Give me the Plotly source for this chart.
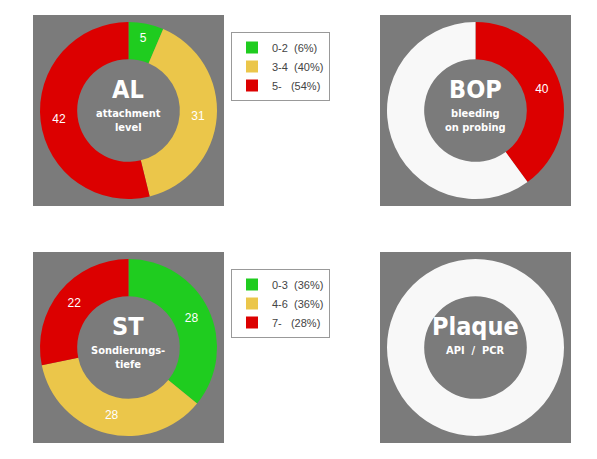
import plotly.graph_objects as go

W, H = 597, 459
OFF = 8  # page body margin

al_labels = ['0-2  (6%)', '3-4  (40%)', '5-   (54%)']
al_values = [5, 31, 42]
bop_labels = ['BOP+', 'BOP-']
bop_values = [40, 60]
st_labels = ['0-3  (36%)', '4-6  (36%)', '7-   (28%)']
st_values = [28, 28, 22]
plaque_labels = ['Plaque']
plaque_values = [100]

GREEN, YELLOW, RED, WHITE = '#1fcc1f', '#ebc64a', '#dc0000', '#f8f8f8'
GRAY = '#7b7b7b'

def px_x(v):
    return (v - OFF) / W

def px_y(v):
    return 1 - (v - OFF) / H

# panels: (left, top) in pixels, size 191
panels = [(33, 15), (380, 15), (33, 252), (380, 252)]

fig = go.Figure()

for x0, y0 in panels:
    fig.add_shape(type='rect', xref='paper', yref='paper',
                  x0=px_x(x0), x1=px_x(x0 + 191), y0=px_y(y0 + 191), y1=px_y(y0),
                  fillcolor=GRAY, line_width=0, layer='below')

def dom(x0, y0):
    return dict(x=[px_x(x0 + 7), px_x(x0 + 184)], y=[px_y(y0 + 184), px_y(y0 + 7)])

common = dict(hole=0.58, sort=False, direction='clockwise', rotation=0,
              textposition='inside', insidetextorientation='horizontal',
              textfont=dict(color='white', size=12, family='Liberation Sans'),
              marker_line_width=0)

fig.add_trace(go.Pie(labels=al_labels, values=al_values, domain=dom(*panels[0]),
                     marker_colors=[GREEN, YELLOW, RED], legend='legend',
                     textinfo='value', **common))
fig.add_trace(go.Pie(labels=bop_labels, values=bop_values, domain=dom(*panels[1]),
                     marker_colors=[RED, WHITE], showlegend=False,
                     texttemplate=['%{value}', ''], **common))
fig.add_trace(go.Pie(labels=st_labels, values=st_values, domain=dom(*panels[2]),
                     marker_colors=[GREEN, YELLOW, RED], legend='legend2',
                     textinfo='value', **common))
fig.add_trace(go.Pie(labels=plaque_labels, values=plaque_values, domain=dom(*panels[3]),
                     marker_colors=[WHITE], showlegend=False, textinfo='none', **common))

titles = [('AL', 'attachment<br>level'), ('BOP', 'bleeding<br>on probing'),
          ('ST', 'Sondierungs-<br>tiefe'), ('Plaque', 'API  /  PCR')]
for (x0, y0), (big, small) in zip(panels, titles):
    cx, cy = x0 + 95, y0 + 95
    fig.add_annotation(x=px_x(cx), y=px_y(cy - 4), xref='paper', yref='paper',
                       text='<b>%s</b>' % big, showarrow=False,
                       xanchor='center', yanchor='bottom',
                       font=dict(color='white', size=25, family='DejaVu Sans Condensed'))
    fig.add_annotation(x=px_x(cx), y=px_y(cy - 5), xref='paper', yref='paper',
                       text='<b>%s</b>' % small, showarrow=False,
                       xanchor='center', yanchor='top', align='center',
                       font=dict(color='white', size=11, family='DejaVu Sans Condensed'))

leg = dict(bgcolor='white', bordercolor='#999999', borderwidth=1,
           font=dict(size=11, color='#444444', family='Liberation Sans'),
           xanchor='left', yanchor='top', tracegroupgap=0, itemwidth=30)

fig.update_layout(
    width=W, height=H, margin=dict(l=0, r=0, t=0, b=0),
    paper_bgcolor='white',
    legend=dict(x=px_x(231), y=px_y(32), **leg),
    legend2=dict(x=px_x(231), y=px_y(269), **leg),
)

fig.write_html('out.html')
